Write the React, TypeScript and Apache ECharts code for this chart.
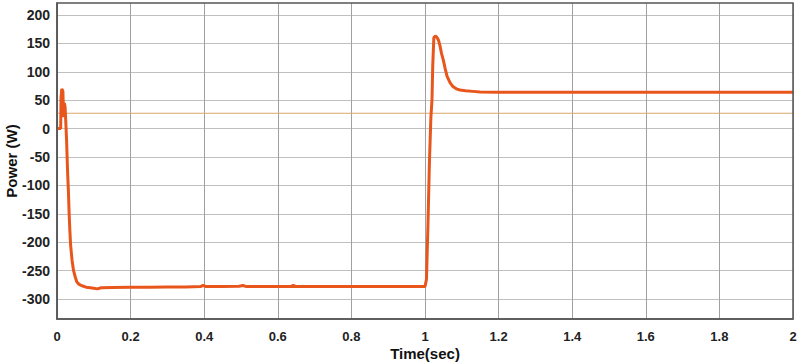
import React, { useEffect, useRef } from "react";
import * as echarts from "echarts";

const timeSec = [
  0, 0.01, 0.011, 0.013, 0.016, 0.018, 0.02, 0.022, 0.024, 0.026, 0.029, 0.031, 0.033, 0.035,
  0.037, 0.041, 0.045, 0.05, 0.054, 0.06, 0.07, 0.079, 0.09, 0.1, 0.11, 0.12, 0.15, 0.2, 0.25,
  0.3, 0.35, 0.39, 0.397, 0.405, 0.45, 0.495, 0.505, 0.515, 0.6, 0.635, 0.642, 0.65, 0.8, 0.9,
  1.0, 1.004, 1.008, 1.012, 1.016, 1.019, 1.021, 1.024, 1.028, 1.033, 1.037, 1.041, 1.045, 1.05,
  1.055, 1.06, 1.068, 1.076, 1.085, 1.095, 1.11, 1.13, 1.15, 1.2, 1.5, 2.0,
];
const powerW = [
  0, 0, 55, 70, 66, 20, 45, 38, 10, -20, -80, -110, -150, -180,
  -205, -232, -250, -262, -270, -274, -277, -279, -280, -281, -282, -280, -279.5, -279, -279,
  -278.5, -278.5, -278, -276, -278, -278, -277.5, -276, -278, -278, -278, -276, -278, -278, -278,
  -278, -265, -170, -60, 20, 50, 110, 160, 163, 160, 155, 145, 132, 120,
  105, 92, 81, 74, 70, 68, 66.5, 65.5, 64.5, 64, 64, 64,
];
const refTime = [0, 2];
const refPower = [27, 27];
const yTicks = [-300, -250, -200, -150, -100, -50, 0, 50, 100, 150, 200];

export default function App() {
  const ref = useRef<HTMLDivElement>(null);
  useEffect(() => {
    if (!ref.current) return;
    const chart = echarts.init(ref.current, undefined, { renderer: "svg" });
    chart.setOption({
      animation: false,
      backgroundColor: "#ffffff",
      grid: {
        left: 57,
        right: 10,
        top: 3,
        bottom: 45,
        containLabel: false,
        outerBoundsMode: "none",
      },
      xAxis: {
        type: "value",
        min: 0,
        max: 2,
        interval: 0.2,
        name: "Time(sec)",
        nameLocation: "middle",
        nameGap: 27,
        nameMoveOverlap: false,
        nameTextStyle: {
          fontFamily: "Liberation Sans, Arial, sans-serif",
          fontWeight: "bold",
          fontSize: 15,
          color: "#111",
        },
        axisLine: { show: true, onZero: false, lineStyle: { color: "#555", width: 1.5 } },
        axisTick: { show: false },
        axisLabel: {
          margin: 11,
          fontFamily: "Liberation Sans, Arial, sans-serif",
          fontWeight: "bold",
          fontSize: 13,
          color: "#222",
          formatter: (v: number) => String(Math.round(v * 10) / 10),
        },
        splitLine: { show: true, lineStyle: { color: "#a0a0a0", width: 1 } },
      },
      yAxis: {
        type: "value",
        min: -335,
        max: 221,
        name: "Power (W)",
        nameLocation: "middle",
        nameGap: 38,
        nameMoveOverlap: false,
        nameTextStyle: {
          fontFamily: "Liberation Sans, Arial, sans-serif",
          fontWeight: "bold",
          fontSize: 15,
          color: "#111",
        },
        axisLine: { show: true, onZero: false, lineStyle: { color: "#555", width: 1.5 } },
        axisTick: { show: false, customValues: yTicks },
        axisLabel: {
          margin: 7,
          customValues: yTicks,
          fontFamily: "Liberation Sans, Arial, sans-serif",
          fontWeight: "bold",
          fontSize: 14,
          color: "#222",
        },
        splitLine: { show: true, lineStyle: { color: "#c0c0c0", width: 1 } },
      },
      series: [
        {
          type: "line",
          data: refTime.map((t, i) => [t, refPower[i]]),
          showSymbol: false,
          lineStyle: { color: "#d9a86a", width: 1.2 },
          z: 2,
        },
        {
          type: "line",
          data: timeSec.map((t, i) => [t, powerW[i]]),
          showSymbol: false,
          lineStyle: { color: "#e8561c", width: 3 },
          z: 3,
        },
      ],
      graphic: [
        {
          type: "rect",
          shape: { x: 57, y: 3, width: 736, height: 316 },
          style: { fill: "none", stroke: "#555", lineWidth: 1.5 },
          silent: true,
          z: 10,
        },
      ],
    });
    return () => chart.dispose();
  }, []);
  return (
    <div
      ref={ref}
      style={{ position: "fixed", left: 0, top: 0, width: 803, height: 364, background: "#fff" }}
    />
  );
}
